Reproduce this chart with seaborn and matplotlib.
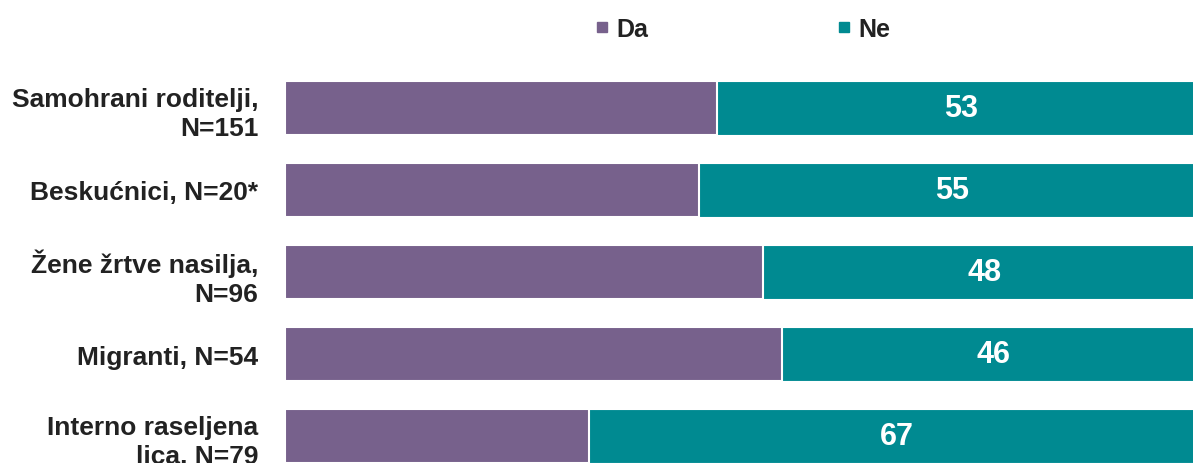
import matplotlib
matplotlib.use("Agg")
import matplotlib.pyplot as plt
from matplotlib.lines import Line2D
import seaborn as sns
import pandas as pd

# data
groups = ["Samohrani roditelji,\nN=151", "Beskućnici, N=20*", "Žene žrtve nasilja,\nN=96",
          "Migranti, N=54", "Interno raseljena\nlica, N=79"]
da = [47, 45, 52, 54, 33]
ne = [53, 55, 48, 46, 67]

purple = "#77618C"
teal = "#008A91"

sns.set_style("white")
plt.rcParams["font.family"] = ["Liberation Sans", "DejaVu Sans"]

df = pd.DataFrame({"group": groups, "Da": da, "Ne": ne})
df["total"] = df["Da"] + df["Ne"]

fig = plt.figure(figsize=(11.93, 4.64), dpi=100)
ax = fig.add_axes([285 / 1193, -14 / 464, 920 / 1193, 410 / 464])

# stacked: total in teal, Da on top in purple
sns.barplot(data=df, y="group", x="total", color=teal, orient="h", width=0.66,
            edgecolor="white", linewidth=0.8, saturation=1, ax=ax)
sns.barplot(data=df, y="group", x="Da", color=purple, orient="h", width=0.66,
            edgecolor="white", linewidth=1.5, saturation=1, ax=ax)

for i, (d, n) in enumerate(zip(da, ne)):
    ax.text(d + n / 2, i, str(n), ha="center", va="center", color="white",
            fontsize=22, fontweight="bold")

ax.set_xlim(0, 100)
ax.set_ylim(4.5, -0.5)
ax.set_xlabel("")
ax.set_ylabel("")
ax.set_xticks([])
ax.tick_params(axis="y", length=0, pad=19)
for lbl in ax.get_yticklabels():
    lbl.set_fontsize(19)
    lbl.set_fontweight("bold")
    lbl.set_color("#222222")
    lbl.set_horizontalalignment("right")
    lbl.set_multialignment("right")
    lbl.set_linespacing(1.3)
sns.despine(ax=ax, left=True, bottom=True)

handles = [Line2D([], [], marker="s", linestyle="", markersize=7, color=purple),
           Line2D([], [], marker="s", linestyle="", markersize=7, color=teal)]
leg = fig.legend(handles, ["Da", "Ne"], loc="center", bbox_to_anchor=(743 / 1193, 1 - 30 / 464),
                 ncol=2, frameon=False, handlelength=0.5, handletextpad=0.3,
                 columnspacing=7.6, prop={"size": 18, "weight": "bold"})
for t in leg.get_texts():
    t.set_color("#222222")

fig.savefig("out.png", dpi=100)
